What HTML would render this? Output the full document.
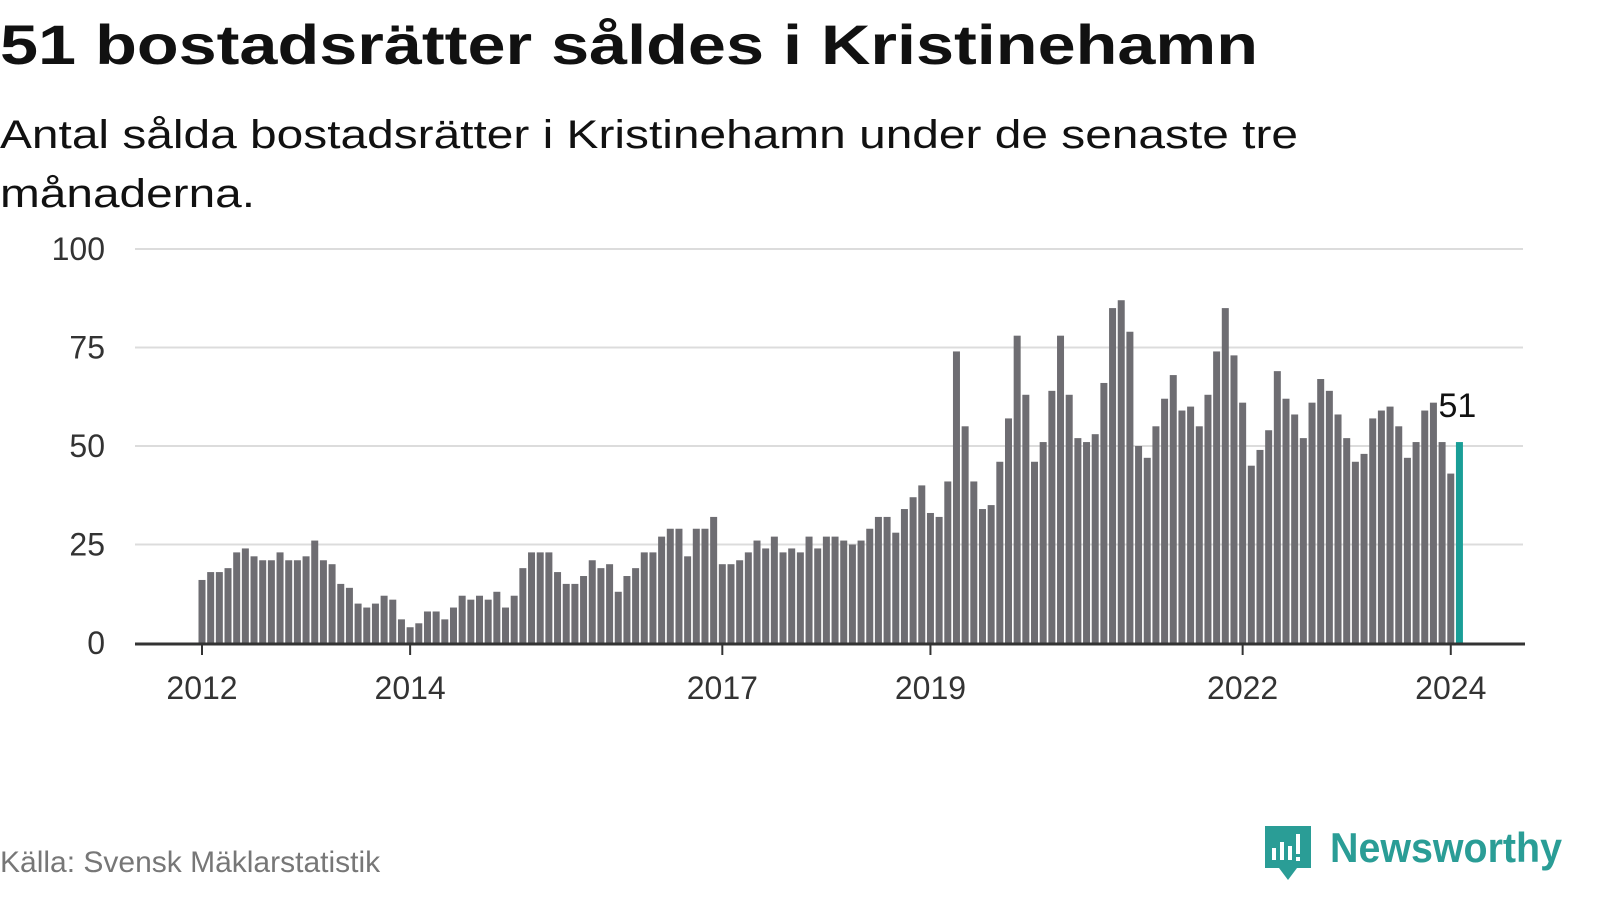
<!DOCTYPE html>
<html><head><meta charset="utf-8"><style>
html,body{margin:0;padding:0;background:#fff;width:1600px;height:900px;overflow:hidden}
svg{display:block;font-family:"Liberation Sans",sans-serif}
</style></head><body>
<svg id="chart" width="1600" height="900" viewBox="0 0 1600 900">
<text x="0" y="64" font-size="56" font-weight="bold" fill="#111" textLength="1258" lengthAdjust="spacingAndGlyphs">51 bostadsrätter såldes i Kristinehamn</text>
<text x="0" y="148" font-size="40" fill="#111" textLength="1298" lengthAdjust="spacingAndGlyphs">Antal sålda bostadsrätter i Kristinehamn under de senaste tre</text>
<text x="0" y="207" font-size="40" fill="#111" textLength="255" lengthAdjust="spacingAndGlyphs">månaderna.</text>
<g id="grid"></g>
<g id="bars"></g>
<g id="axes"></g>
<text x="0" y="872" font-size="30" fill="#777">Källa: Svensk Mäklarstatistik</text>
<g>
<path d="M1265 826 h46 v42 h-14 l-9 12 l-9 -12 h-14 z" fill="#2a9d96"/>
<rect x="1272" y="848" width="4" height="12" fill="#fff"/><rect x="1280" y="842" width="4" height="18" fill="#fff"/><rect x="1288" y="846" width="4" height="14" fill="#fff"/><rect x="1296" y="834" width="4" height="20" fill="#fff"/><rect x="1296" y="857" width="4" height="4" fill="#fff"/>
<text x="1330" y="862" font-size="42" font-weight="bold" fill="#2a9d96" textLength="232" lengthAdjust="spacingAndGlyphs">Newsworthy</text>
</g>
</svg>
<script>
const values = [16,18,18,19,23,24,22,21,21,23,21,21,22,26,21,20,15,14,10,9,10,12,11,6,4,5,8,8,6,9,12,
11,12,11,13,9,12,19,23,23,23,18,15,15,17,21,19,20,13,17,19,23,23,27,29,29,22,29,29,32,20,
20,21,23,26,24,27,23,24,23,27,24,27,27,26,25,26,29,32,32,28,34,37,40,33,32,41,74,55,41,34,35,
46,57,78,63,46,51,64,78,63,52,51,53,66,85,87,79,50,47,55,62,68,59,60,55,63,74,
85,73,61,45,49,54,69,62,58,52,61,67,64,58,52,46,48,57,59,60,55,47,51,59,61,51,43,51];
const yTicks = [0,25,50,75,100];
const xTickLabels = ["2012","2014","2017","2019","2022","2024"];
const xTickIndex = [0,24,60,84,120,144];
const highlightLabel = "51";

const NS="http://www.w3.org/2000/svg";
const x0=202, step=8.672, y0=643, k=3.94;
const xs=i=>x0+i*step;
const ys=v=>y0-v*k;
function mk(tag,attrs,parent){const e=document.createElementNS(NS,tag);for(const a in attrs)e.setAttribute(a,attrs[a]);parent.appendChild(e);return e;}
const grid=document.getElementById('grid'),bars=document.getElementById('bars'),axes=document.getElementById('axes');
yTicks.forEach(t=>{
  if(t>0){const l=mk('line',{x1:135,x2:1523,y1:ys(t),y2:ys(t),stroke:'#dcdcdc','stroke-width':2},grid);
  
  }
  const tx=mk('text',{x:105,y:ys(t)+11,'font-size':32,fill:'#333','text-anchor':'end'},axes);
  tx.textContent=t;
  
  
});
values.forEach((v,i)=>{
  const last=i===values.length-1;
  const r=mk('rect',{x:xs(i)-3.5,y:ys(v),width:7,height:v*k,fill:last?'#1a9e97':'#6e6d72'},bars);
  
  
});
const ax=mk('line',{x1:135,x2:1525,y1:y0+1,y2:y0+1,stroke:'#333','stroke-width':3},axes);


xTickLabels.forEach((lab,j)=>{
  const x=xs(xTickIndex[j]);
  const tl=mk('line',{x1:x,x2:x,y1:y0,y2:y0+12,stroke:'#333','stroke-width':2},axes);
  
  
  const t=mk('text',{x:x,y:699,'font-size':32,fill:'#333','text-anchor':'middle'},axes);
  t.textContent=lab;
  
  
});
const li=values.length-1;
const vl=mk('text',{x:xs(li)-2,y:ys(values[li])-25,'font-size':34,fill:'#111','text-anchor':'middle',stroke:'#fff','stroke-width':4,'paint-order':'stroke'},axes);
vl.textContent=highlightLabel;


</script>
</body></html>
